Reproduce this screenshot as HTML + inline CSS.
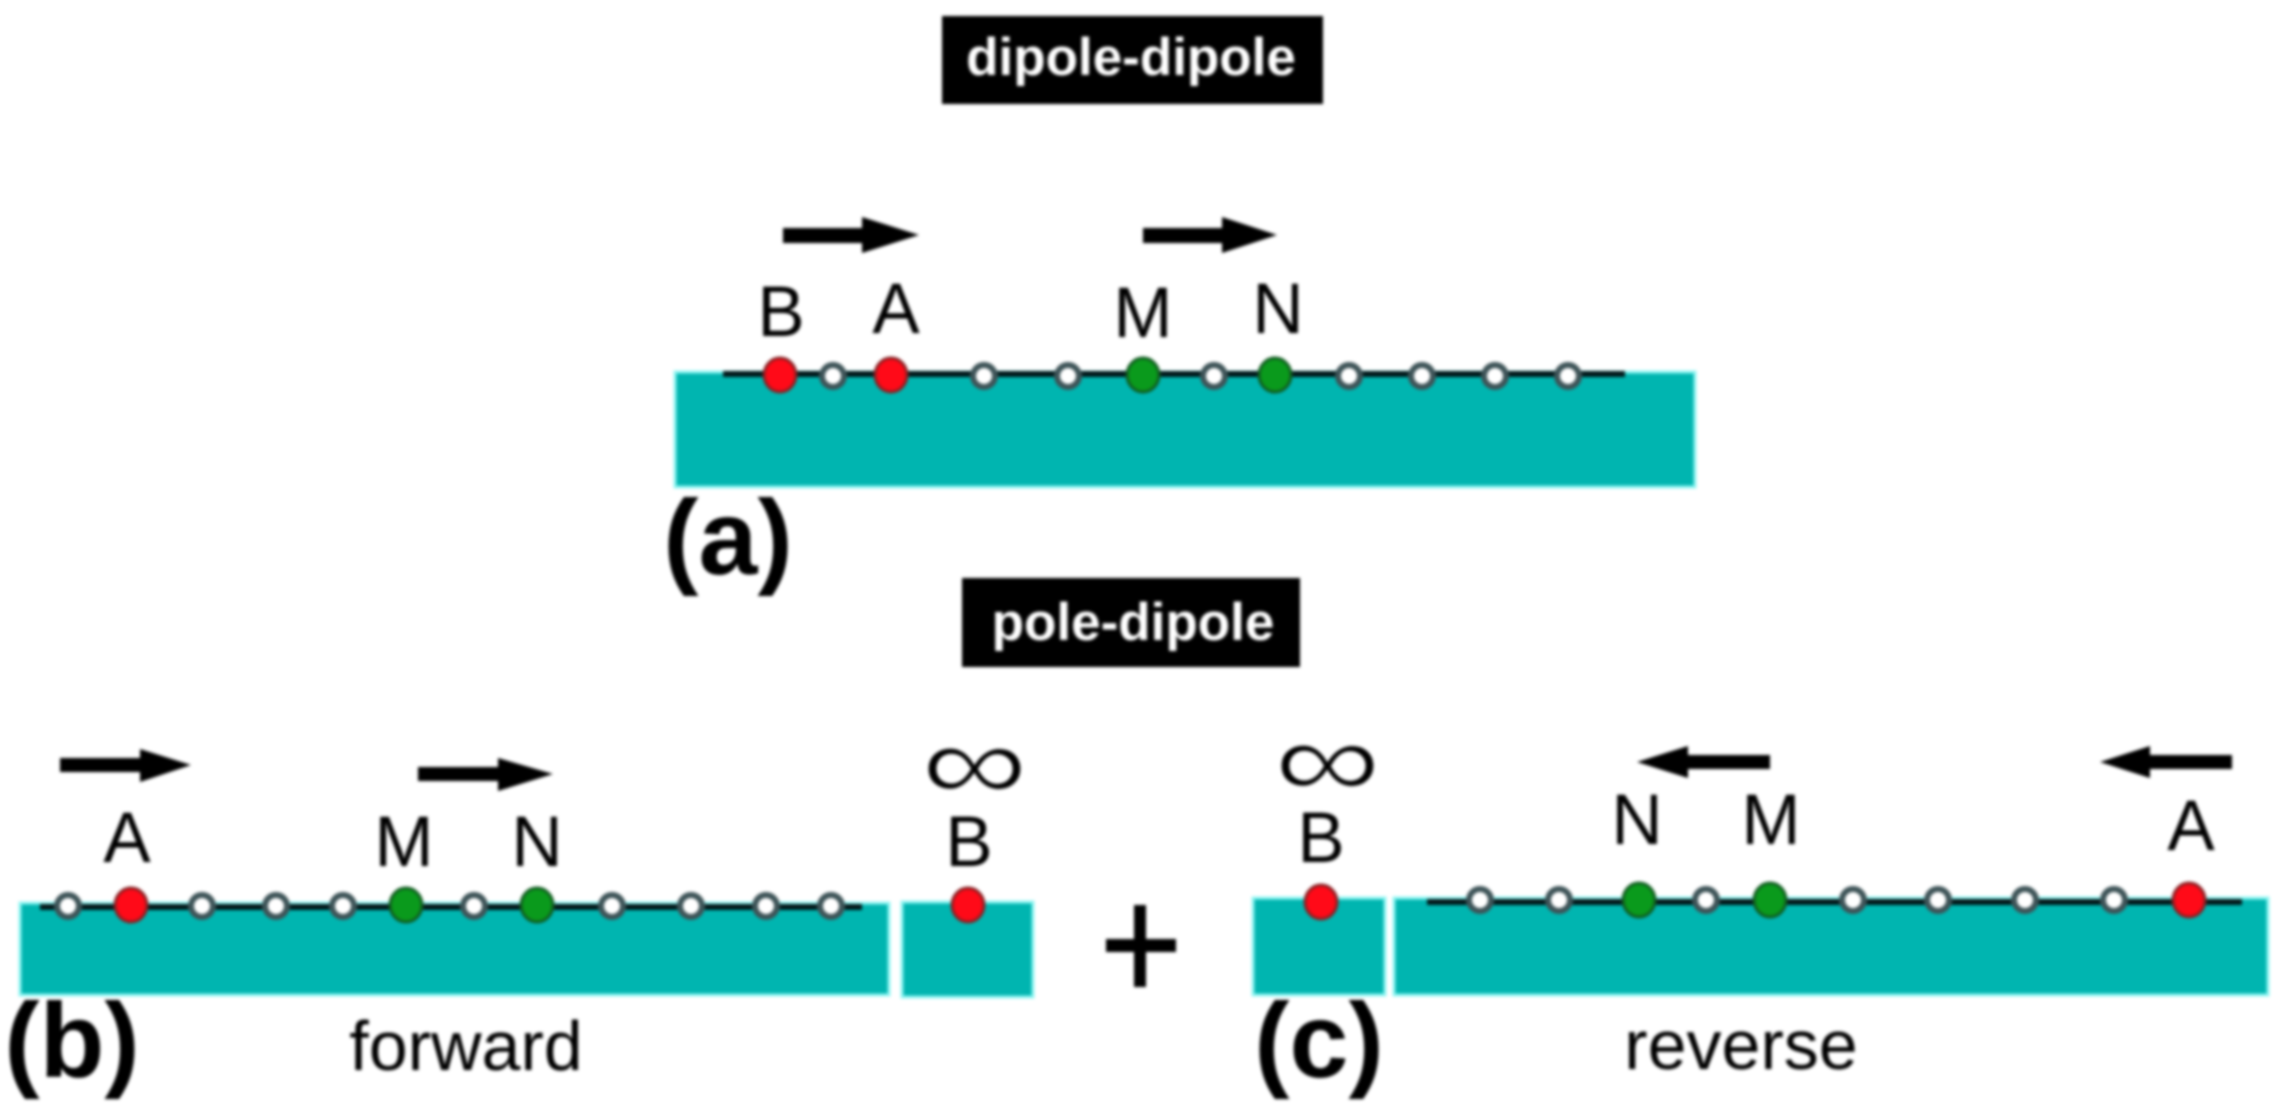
<!DOCTYPE html>
<html><head><meta charset="utf-8"><style>
html,body{margin:0;padding:0;background:#fff;width:2278px;height:1106px;overflow:hidden}
svg{display:block;filter:blur(1.5px)}
text{font-family:"Liberation Sans","DejaVu Sans",sans-serif;fill:#000;text-anchor:middle}
.l{font-size:71px}
.p{font-size:106px;font-weight:bold}
.t{font-size:53px;font-weight:bold;fill:#fff}
.w{font-size:70px}
.i{font-size:150px;stroke:#fff;stroke-width:2.5px}
.g{fill:#00b5b0;stroke:#8ff5f2;stroke-width:3}
.r{fill:#ff0a18;stroke:#8a1f22;stroke-width:3}
.n{fill:#0a9a1c;stroke:#105c20;stroke-width:3}
.o{fill:#fff;stroke:#3e5458;stroke-width:6}
.ln{stroke:#03181a;stroke-width:6}
</style></head><body>
<svg width="2278" height="1106" viewBox="0 0 2278 1106" xmlns="http://www.w3.org/2000/svg">
<rect x="942" y="16" width="381" height="88" fill="#000"/>
<text class="t" x="1131" y="75">dipole-dipole</text>
<rect x="962" y="578" width="338" height="89" fill="#000"/>
<text class="t" x="1133" y="640">pole-dipole</text>

<!-- a -->
<rect class="g" x="675" y="372" width="1020" height="115"/>
<line class="ln" x1="723" y1="374" x2="1625" y2="374"/>
<g>
<ellipse class="r" cx="780" cy="375" rx="16" ry="17"/>
<ellipse class="r" cx="891" cy="375" rx="16" ry="17"/>
<ellipse class="n" cx="1143" cy="375" rx="16" ry="17"/>
<ellipse class="n" cx="1275" cy="375" rx="16" ry="17"/>
<circle class="o" cx="833" cy="376" r="11"/>
<circle class="o" cx="984" cy="376" r="11"/>
<circle class="o" cx="1068" cy="376" r="11"/>
<circle class="o" cx="1214" cy="376" r="11"/>
<circle class="o" cx="1349" cy="376" r="11"/>
<circle class="o" cx="1422" cy="376" r="11"/>
<circle class="o" cx="1495" cy="376" r="11"/>
<circle class="o" cx="1568" cy="376" r="11"/>
</g>
<path d="M783 228H862V217L919 235L862 253V243H783Z"/>
<path d="M1143 228H1222V217L1277 235L1222 253V243H1143Z"/>
<text class="l" x="781" y="336">B</text>
<text class="l" x="896" y="333">A</text>
<text class="l" x="1143" y="337">M</text>
<text class="l" x="1278" y="333">N</text>
<text class="p" x="728" y="574">(a)</text>

<!-- b -->
<rect class="g" x="20" y="903" width="869" height="92"/>
<rect class="g" x="902" y="902" width="131" height="95"/>
<line class="ln" x1="40" y1="907" x2="862" y2="907"/>
<ellipse class="r" cx="131" cy="905" rx="16" ry="17"/>
<ellipse class="r" cx="968" cy="905" rx="16" ry="17"/>
<ellipse class="n" cx="406" cy="905" rx="16" ry="17"/>
<ellipse class="n" cx="537" cy="905" rx="16" ry="17"/>
<circle class="o" cx="68" cy="906" r="11"/>
<circle class="o" cx="202" cy="906" r="11"/>
<circle class="o" cx="276" cy="906" r="11"/>
<circle class="o" cx="343" cy="906" r="11"/>
<circle class="o" cx="474" cy="906" r="11"/>
<circle class="o" cx="612" cy="906" r="11"/>
<circle class="o" cx="691" cy="906" r="11"/>
<circle class="o" cx="766" cy="906" r="11"/>
<circle class="o" cx="831" cy="906" r="11"/>
<path d="M60 758H140V749L191 765L140 782V772H60Z"/>
<path d="M418 767H498V758L553 774L498 791V781H418Z"/>
<text class="l" x="127" y="862">A</text>
<text class="l" x="404" y="866">M</text>
<text class="l" x="537" y="866">N</text>
<text class="l" x="969" y="866">B</text>
<text class="i" transform="translate(974.5,801) scale(1,.74)" x="0" y="0">∞</text>
<text class="p" x="72" y="1077">(b)</text>
<text class="w" x="466" y="1070">forward</text>

<!-- plus -->
<path d="M1134 905H1146V939H1176V952H1146V987H1134V952H1106V939H1134Z"/>

<!-- c -->
<rect class="g" x="1253" y="898" width="132" height="97"/>
<rect class="g" x="1394" y="898" width="874" height="97"/>
<line class="ln" x1="1427" y1="902" x2="2242" y2="902"/>
<ellipse class="r" cx="1321" cy="902" rx="16" ry="17"/>
<ellipse class="r" cx="2189" cy="900" rx="16" ry="17"/>
<ellipse class="n" cx="1639" cy="900" rx="16" ry="17"/>
<ellipse class="n" cx="1770" cy="900" rx="16" ry="17"/>
<circle class="o" cx="1480" cy="900" r="11"/>
<circle class="o" cx="1559" cy="900" r="11"/>
<circle class="o" cx="1706" cy="900" r="11"/>
<circle class="o" cx="1853" cy="900" r="11"/>
<circle class="o" cx="1938" cy="900" r="11"/>
<circle class="o" cx="2025" cy="900" r="11"/>
<circle class="o" cx="2114" cy="900" r="11"/>
<path d="M1770 755H1688V746L1637 762L1688 778V769H1770Z"/>
<path d="M2232 755H2150V746L2100 762L2150 778V769H2232Z"/>
<text class="l" x="1321" y="862">B</text>
<text class="l" x="1637" y="844">N</text>
<text class="l" x="1771" y="844">M</text>
<text class="l" x="2191" y="850">A</text>
<text class="i" transform="translate(1327.5,798) scale(1,.74)" x="0" y="0">∞</text>
<text class="p" x="1319" y="1077">(c)</text>
<text class="w" x="1741" y="1069">reverse</text>
</svg>
</body></html>
